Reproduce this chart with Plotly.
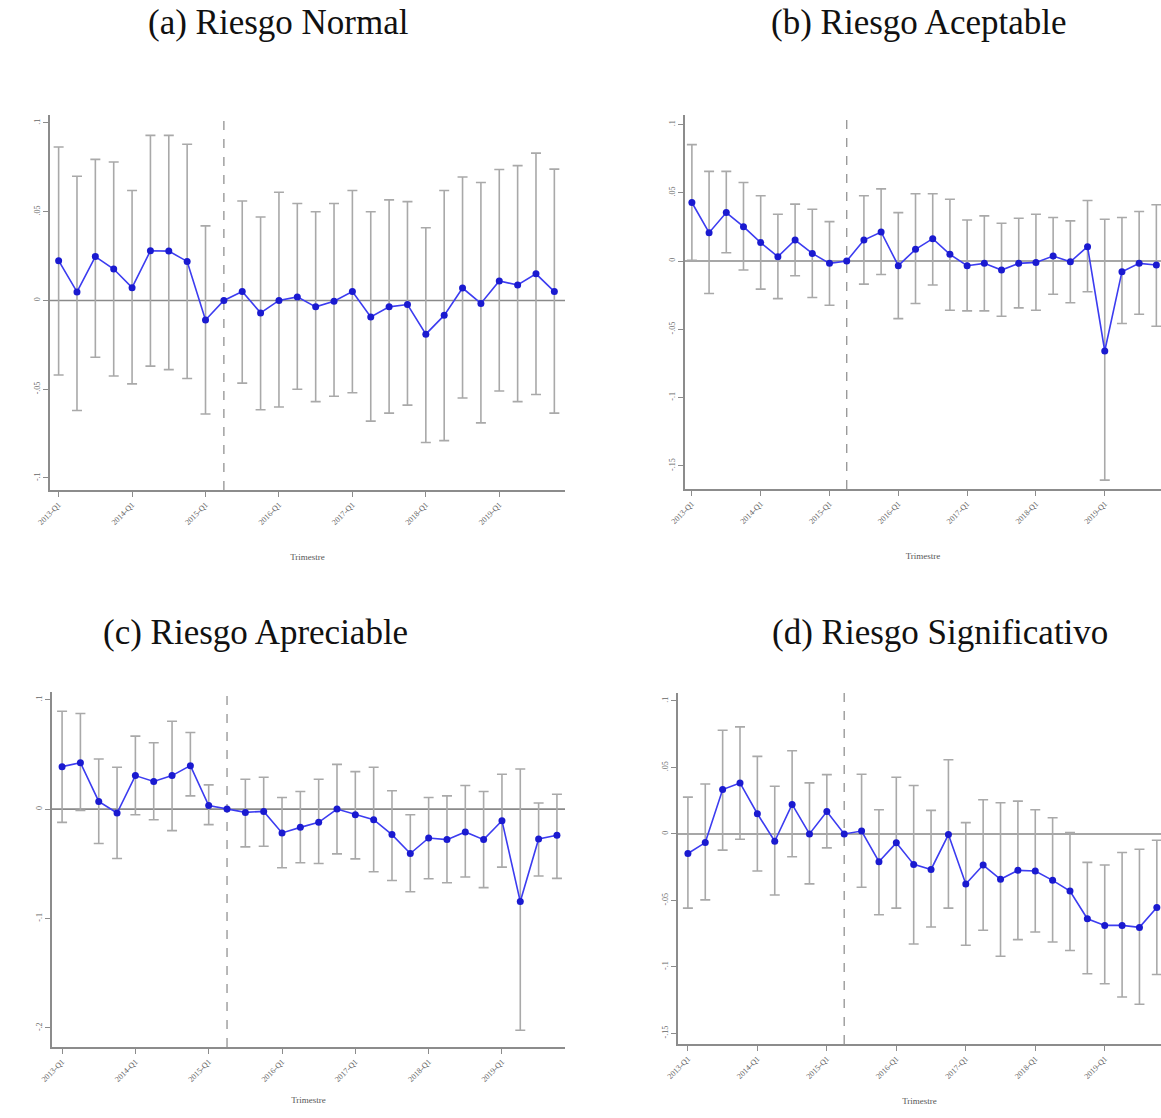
import numpy as np
import plotly.graph_objects as go

# Quarters 2013-Q1 .. 2019-Q4 (index 0..27); the reference quarter is 2015-Q2 (index 9)
quarters = [f"{y}-Q{q}" for y in range(2013, 2020) for q in range(1, 5)]
ref_idx = 9
xtick_idx = [0, 4, 8, 12, 16, 20, 24]
xtick_text = ["2013-Q1", "2014-Q1", "2015-Q1", "2016-Q1", "2017-Q1", "2018-Q1", "2019-Q1"]

# (a) Riesgo Normal
est_a = [0.0224, 0.0048, 0.0247, 0.0177, 0.0072, 0.0280, 0.0278, 0.0220, -0.0110, 0.0,
         0.0050, -0.0070, 0.0000, 0.0020, -0.0036, -0.0004, 0.0050, -0.0093, -0.0036, -0.0023,
         -0.0190, -0.0084, 0.0070, -0.0017, 0.0110, 0.0087, 0.0150, 0.0050]
up_a = [0.0865, 0.0700, 0.0795, 0.0780, 0.0620, 0.0930, 0.0930, 0.0880, 0.0420, None,
        0.0560, 0.0470, 0.0610, 0.0546, 0.0500, 0.0546, 0.0620, 0.0500, 0.0567, 0.0557,
        0.0410, 0.0620, 0.0696, 0.0665, 0.0738, 0.0760, 0.0830, 0.0740]
lo_a = [-0.0420, -0.0620, -0.0320, -0.0426, -0.0470, -0.0370, -0.0390, -0.0440, -0.0640, None,
        -0.0466, -0.0616, -0.0600, -0.0500, -0.0570, -0.0540, -0.0520, -0.0680, -0.0635, -0.0590,
        -0.0800, -0.0790, -0.0550, -0.0690, -0.0510, -0.0570, -0.0530, -0.0635]

# (b) Riesgo Aceptable
est_b = [0.0429, 0.0208, 0.0355, 0.0252, 0.0135, 0.0032, 0.0154, 0.0056, -0.0017, 0.0,
         0.0154, 0.0213, -0.0034, 0.0086, 0.0164, 0.0049, -0.0034, -0.0017, -0.0066, -0.0017,
         -0.0010, 0.0037, -0.0005, 0.0105, -0.0659, -0.0078, -0.0017, -0.0029]
up_b = [0.0853, 0.0657, 0.0657, 0.0576, 0.0478, 0.0343, 0.0417, 0.0380, 0.0289, None,
        0.0478, 0.0529, 0.0355, 0.0493, 0.0493, 0.0453, 0.0301, 0.0331, 0.0277, 0.0314,
        0.0343, 0.0319, 0.0294, 0.0444, 0.0306, 0.0319, 0.0363, 0.0412]
lo_b = [0.0005, -0.0238, 0.0061, -0.0066, -0.0206, -0.0275, -0.0108, -0.0267, -0.0324, None,
        -0.0169, -0.0098, -0.0422, -0.0311, -0.0176, -0.0360, -0.0365, -0.0365, -0.0404, -0.0343,
        -0.0360, -0.0243, -0.0306, -0.0225, -0.1605, -0.0458, -0.0390, -0.0478]

# (c) Riesgo Apreciable
est_c = [0.0388, 0.0424, 0.0070, -0.0036, 0.0306, 0.0252, 0.0306, 0.0397, 0.0033, 0.0,
         -0.0030, -0.0021, -0.0218, -0.0167, -0.0121, 0.0000, -0.0052, -0.0097, -0.0233, -0.0406,
         -0.0264, -0.0279, -0.0209, -0.0279, -0.0106, -0.0845, -0.0273, -0.0239]
up_c = [0.0894, 0.0873, 0.0458, 0.0382, 0.0667, 0.0606, 0.0803, 0.0700, 0.0221, None,
        0.0273, 0.0291, 0.0106, 0.0161, 0.0273, 0.0409, 0.0342, 0.0382, 0.0167, -0.0052,
        0.0106, 0.0121, 0.0215, 0.0161, 0.0318, 0.0367, 0.0055, 0.0136]
lo_c = [-0.0121, -0.0012, -0.0315, -0.0452, -0.0052, -0.0097, -0.0197, 0.0121, -0.0142, None,
        -0.0345, -0.0339, -0.0536, -0.0491, -0.0497, -0.0409, -0.0455, -0.0573, -0.0652, -0.0755,
        -0.0636, -0.0673, -0.0621, -0.0718, -0.0530, -0.2021, -0.0612, -0.0633]

# (d) Riesgo Significativo
est_d = [-0.0147, -0.0065, 0.0334, 0.0384, 0.0152, -0.0055, 0.0222, 0.0000, 0.0169, 0.0,
         0.0022, -0.0209, -0.0067, -0.0229, -0.0267, -0.0005, -0.0376, -0.0234, -0.0341, -0.0274,
         -0.0279, -0.0349, -0.0429, -0.0638, -0.0688, -0.0688, -0.0703, -0.0553]
up_d = [0.0277, 0.0376, 0.0780, 0.0805, 0.0583, 0.0359, 0.0626, 0.0384, 0.0446, None,
        0.0449, 0.0182, 0.0426, 0.0364, 0.0177, 0.0558, 0.0085, 0.0257, 0.0234, 0.0247,
        0.0182, 0.0122, 0.0010, -0.0214, -0.0234, -0.0140, -0.0115, -0.0047]
lo_d = [-0.0558, -0.0496, -0.0122, -0.0040, -0.0279, -0.0459, -0.0172, -0.0376, -0.0105, None,
        -0.0401, -0.0608, -0.0558, -0.0828, -0.0700, -0.0558, -0.0837, -0.0725, -0.0920, -0.0795,
        -0.0738, -0.0813, -0.0877, -0.1052, -0.1127, -0.1226, -0.1281, -0.1057]

# Y tick values and labels per panel
yt_a = [0.1, 0.05, 0.0, -0.05, -0.1]
yl_a = [".1", ".05", "0", "-.05", "-.1"]
yt_b = [0.1, 0.05, 0.0, -0.05, -0.1, -0.15]
yl_b = [".1", ".05", "0", "-.05", "-.1", "-.15"]
yt_c = [0.1, 0.0, -0.1, -0.2]
yl_c = [".1", "0", "-.1", "-.2"]
yt_d = [0.1, 0.05, 0.0, -0.05, -0.1, -0.15]
yl_d = [".1", ".05", "0", "-.05", "-.1", "-.15"]

titles = ["(a) Riesgo Normal", "(b) Riesgo Aceptable", "(c) Riesgo Apreciable", "(d) Riesgo Significativo"]

W, H = 1161, 1118


def px_x(v):
    return v / W


def px_y(v):
    return 1 - v / H


# panel layout in pixels: (left, right, top, bottom), x range, y range, title standoff
panels = [
    dict(est=est_a, up=up_a, lo=lo_a, yt=yt_a, yl=yl_a, box=(50, 565, 115, 490),
         xr=[-0.47, 27.58], yr=[-0.1068, 0.1045], title=titles[0], tpos=(278, 22), so=28),
    dict(est=est_b, up=up_b, lo=lo_b, yt=yt_b, yl=yl_b, box=(685, 1161, 115, 489),
         xr=[-0.40, 27.27], yr=[-0.167, 0.107], title=titles[1], tpos=(918, 22), so=28),
    dict(est=est_c, up=up_c, lo=lo_c, yt=yt_c, yl=yl_c, box=(52, 565, 692, 1047),
         xr=[-0.55, 27.44], yr=[-0.2174, 0.107], title=titles[2], tpos=(255, 632), so=14),
    dict(est=est_d, up=up_d, lo=lo_d, yt=yt_d, yl=yl_d, box=(678, 1161, 693, 1044),
         xr=[-0.57, 27.24], yr=[-0.158, 0.106], title=titles[3], tpos=(940, 632), so=18),
]

AXIS_GREY = "#8c8c8c"
BAR_GREY = "#a9a9a9"
LINE_BLUE = "#3c3cf0"
DOT_BLUE = "#1a1ad0"

fig = go.Figure()
x_idx = list(range(len(quarters)))

for i, p in enumerate(panels):
    n = "" if i == 0 else str(i + 1)
    xa, ya = "x" + n, "y" + n
    est = np.array(p["est"], dtype=float)
    up = np.array([np.nan if v is None else v for v in p["up"]], dtype=float)
    lo = np.array([np.nan if v is None else v for v in p["lo"]], dtype=float)

    # confidence intervals (drawn first so the estimate line sits on top)
    fig.add_trace(go.Scatter(
        x=x_idx, y=est, mode="markers", xaxis=xa, yaxis=ya,
        marker=dict(size=1, color="rgba(0,0,0,0)"),
        error_y=dict(type="data", symmetric=False, array=up - est, arrayminus=est - lo,
                     color=BAR_GREY, thickness=1.6, width=5),
        hoverinfo="skip", showlegend=False, cliponaxis=False,
    ))
    # point estimates
    fig.add_trace(go.Scatter(
        x=x_idx, y=est, mode="lines+markers", xaxis=xa, yaxis=ya,
        line=dict(color=LINE_BLUE, width=1.6),
        marker=dict(size=7, color=DOT_BLUE),
        showlegend=False,
    ))

    l, r, t, b = p["box"]
    common_axis = dict(showline=True, linecolor=AXIS_GREY, linewidth=2, showgrid=False,
                       zeroline=False, ticks="outside", tickcolor=AXIS_GREY, ticklen=5,
                       tickwidth=1.2, automargin=False,
                       tickfont=dict(family="Liberation Serif", size=8, color="#666"))
    fig.layout["xaxis" + n] = dict(
        domain=[px_x(l), min(px_x(r), 1.0)], anchor=ya, range=p["xr"],
        tickmode="array", tickvals=xtick_idx, ticktext=xtick_text, tickangle=-45,
        title=dict(text="Trimestre", font=dict(family="Liberation Serif", size=9, color="#555"),
                   standoff=p["so"]),
        **common_axis,
    )
    fig.layout["yaxis" + n] = dict(
        domain=[px_y(b), px_y(t)], anchor=xa, range=p["yr"],
        tickmode="array", tickvals=p["yt"], ticktext=p["yl"], tickangle=-90,
        **common_axis,
    )

    # zero reference line and the base-quarter marker
    fig.add_shape(type="line", xref=xa + " domain", yref=ya, x0=0, x1=1, y0=0, y1=0,
                  line=dict(color="#8a8a8a", width=1.6), layer="below")
    fig.add_shape(type="line", xref=xa, yref=ya + " domain", x0=ref_idx, x1=ref_idx, y0=0, y1=1,
                  line=dict(color="#9a9a9a", width=1.4, dash="dash"), layer="below")

    tx, ty = p["tpos"]
    fig.add_annotation(text=p["title"], x=px_x(tx), y=px_y(ty), xref="paper", yref="paper",
                       showarrow=False, xanchor="center", yanchor="middle",
                       font=dict(family="Liberation Serif", size=35, color="#111"))

fig.update_layout(
    width=W, height=H, margin=dict(l=0, r=0, t=0, b=0),
    paper_bgcolor="white", plot_bgcolor="white",
)

fig.write_html("out.html")
